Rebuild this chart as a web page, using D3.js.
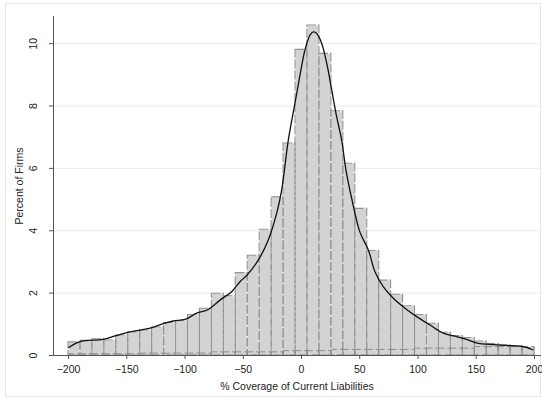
<!DOCTYPE html>
<html>
<head>
<meta charset="utf-8">
<script src="https://cdn.jsdelivr.net/npm/d3@7"></script>
<style>
  html, body { margin: 0; padding: 0; background: #fff; }
  svg { display: block; font-family: "Liberation Sans", Arial, sans-serif; }
</style>
</head>
<body>
<svg id="chart" width="542" height="400"></svg>
<script>
// Histogram range of % coverage of current liabilities
const coverageRange = [-200, 200];

// Percent of firms in each of the 39 equal-width bins
const percentFirms = [
  0.42, 0.47, 0.52, 0.48, 0.64, 0.74, 0.80, 0.90, 1.04, 1.10,
  1.30, 1.50, 1.98, 1.90, 2.64, 3.20, 4.03, 5.07, 6.80, 9.80,
  10.58, 9.67, 7.83, 6.15, 4.70, 3.35, 2.40, 1.95, 1.58, 1.30,
  1.02, 0.73, 0.62, 0.56, 0.45, 0.37, 0.33, 0.30, 0.24
];

// Second (outline-only) group, same bins
const percentSubgroup = [
  0.04, 0.04, 0.04, 0.04, 0.04, 0.04, 0.06, 0.06, 0.06, 0.06,
  0.06, 0.06, 0.10, 0.10, 0.10, 0.10, 0.10, 0.10, 0.14, 0.14,
  0.14, 0.14, 0.18, 0.18, 0.18, 0.18, 0.18, 0.18, 0.18, 0.22,
  0.22, 0.22, 0.22, 0.22, 0.27, 0.27, 0.27, 0.27, 0.27
];

// Kernel density estimate, expressed in percent units
const densityCoverage = [
  -199.7, -189.7, -170, -159.7, -149.6, -129.6, -119.6, -109.6, -99.6, -89.5,
  -79.6, -69.5, -59.5, -52.4, -46.6, -36.7, -28.1, -20.9, -16.6, -10.9,
  -5.2, -0.9, 3.4, 7.7, 10.6, 13.5, 17.8, 22.1, 26.4, 30.6,
  34.9, 38.6, 43.8, 50.6, 57.8, 63.5, 70.6, 79.2, 89.3, 99.3,
  110.7, 122.1, 133.6, 142.2, 152.2, 162.2, 179.4, 190.8, 199.4
];
const densityPercent = [
  0.23, 0.43, 0.50, 0.61, 0.72, 0.86, 0.99, 1.09, 1.14, 1.34,
  1.46, 1.76, 2.03, 2.35, 2.55, 3.04, 3.69, 4.54, 5.29, 6.89,
  8.07, 8.97, 9.78, 10.26, 10.36, 10.31, 9.99, 9.35, 8.49, 7.64,
  6.89, 5.93, 4.97, 3.94, 3.37, 2.67, 2.19, 1.82, 1.50, 1.23,
  0.96, 0.70, 0.59, 0.50, 0.37, 0.34, 0.30, 0.27, 0.16
];

const xTicks = [-200, -150, -100, -50, 0, 50, 100, 150, 200];
const yTicks = [0, 2, 4, 6, 8, 10];
const xTitle = "% Coverage of Current Liabilities";
const yTitle = "Percent of Firms";

const svg = d3.select("#chart");

// Graph region outline
svg.append("rect")
  .attr("x", 5.5).attr("y", 3.5)
  .attr("width", 535).attr("height", 393)
  .attr("fill", "none")
  .attr("stroke", "#e2eaea");

const plotLeft = 53, plotRight = 541, plotTop = 16, plotBottom = 355;

const x = d3.scaleLinear().domain(coverageRange).range([68, 534]);
const y = d3.scaleLinear().domain([0, 10.87]).range([plotBottom, plotTop]);

// Horizontal grid lines
svg.append("g")
  .selectAll("line")
  .data(yTicks.filter(d => d > 0))
  .join("line")
  .attr("x1", plotLeft).attr("x2", plotRight)
  .attr("y1", d => y(d) + 0.5).attr("y2", d => y(d) + 0.5)
  .attr("stroke", "#e4eeee")
  .attr("stroke-width", 1);

const nBins = percentFirms.length;
const binW = (coverageRange[1] - coverageRange[0]) / nBins;
const bins = percentFirms.map((v, i) => ({
  x0: coverageRange[0] + i * binW,
  x1: coverageRange[0] + (i + 1) * binW,
  v: v,
  s: percentSubgroup[i]
}));

// Main histogram: filled bars with a light base stroke and dashed grey outline
const barG = svg.append("g");
barG.selectAll("rect.base")
  .data(bins)
  .join("rect")
  .attr("class", "base")
  .attr("x", d => x(d.x0))
  .attr("y", d => y(d.v))
  .attr("width", d => x(d.x1) - x(d.x0))
  .attr("height", d => y(0) - y(d.v))
  .attr("fill", "#d3d3d3")
  .attr("stroke", "#f3f3f3")
  .attr("stroke-width", 1.2);
barG.selectAll("rect.edge")
  .data(bins)
  .join("rect")
  .attr("class", "edge")
  .attr("x", d => x(d.x0))
  .attr("y", d => y(d.v))
  .attr("width", d => x(d.x1) - x(d.x0))
  .attr("height", d => y(0) - y(d.v))
  .attr("fill", "none")
  .attr("stroke", "#939393")
  .attr("stroke-width", 1.1)
  .attr("stroke-dasharray", "9,2");

// Outline-only subgroup histogram
barG.selectAll("rect.sub")
  .data(bins)
  .join("rect")
  .attr("class", "sub")
  .attr("x", d => x(d.x0))
  .attr("y", d => y(d.s))
  .attr("width", d => x(d.x1) - x(d.x0))
  .attr("height", d => y(0) - y(d.s))
  .attr("fill", "none")
  .attr("stroke", "#8c8c8c")
  .attr("stroke-width", 1)
  .attr("stroke-dasharray", "6,3");

// Kernel density curve
const densityPts = densityCoverage.map((c, i) => [c, densityPercent[i]]);
svg.append("path")
  .datum(densityPts)
  .attr("fill", "none")
  .attr("stroke", "#111")
  .attr("stroke-width", 1.3)
  .attr("d", d3.line()
    .x(d => x(d[0]))
    .y(d => y(d[1]))
    .curve(d3.curveCatmullRom.alpha(0.5)));

// Y axis
const yAxis = svg.append("g")
  .attr("transform", `translate(${plotLeft},0)`)
  .call(d3.axisLeft(y).tickValues(yTicks).tickSize(4).tickSizeOuter(0));
yAxis.select(".domain").attr("d", `M0.5,${plotTop}V${plotBottom + 0.5}`).attr("stroke", "#555");
yAxis.selectAll(".tick line").attr("stroke", "#555");
yAxis.selectAll(".tick text")
  .attr("x", null).attr("dy", null)
  .attr("transform", "translate(-16,0) rotate(-90)")
  .attr("text-anchor", "middle")
  .attr("font-size", 10.5)
  .attr("fill", "#222");

// X axis
const xAxis = svg.append("g")
  .attr("transform", `translate(0,${plotBottom})`)
  .call(d3.axisBottom(x).tickValues(xTicks).tickSize(4).tickPadding(7).tickSizeOuter(0));
xAxis.select(".domain").attr("d", `M${plotLeft},0.5H${plotRight}`).attr("stroke", "#555");
xAxis.selectAll(".tick line").attr("stroke", "#555");
xAxis.selectAll(".tick text")
  .attr("font-size", 10.5)
  .attr("fill", "#222");

// Axis titles
svg.append("text")
  .attr("x", 297).attr("y", 390)
  .attr("text-anchor", "middle")
  .attr("font-size", 10.5)
  .attr("fill", "#222")
  .text(xTitle);
svg.append("text")
  .attr("transform", `translate(23,186) rotate(-90)`)
  .attr("text-anchor", "middle")
  .attr("font-size", 10.5)
  .attr("fill", "#222")
  .text(yTitle);
</script>
</body>
</html>
